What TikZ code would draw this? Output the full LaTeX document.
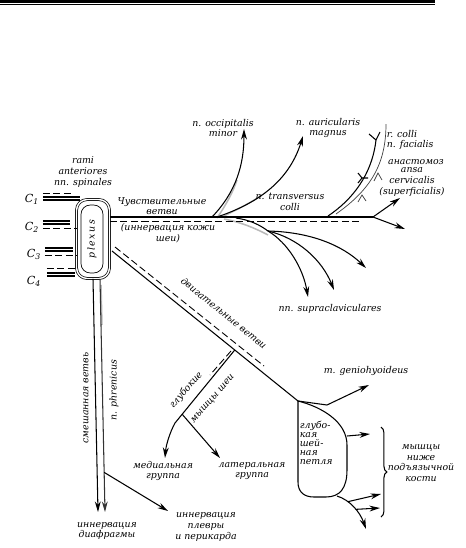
\documentclass[tikz,border=0pt]{standalone}
\usepackage{fontspec}
\setmainfont{DejaVu Serif}
\usetikzlibrary{arrows.meta,calc,decorations.pathreplacing}

\begin{document}
\begin{tikzpicture}[x=0.03cm,y=-0.03cm,>={Stealth[length=9pt,width=5pt]}]
\tikzset{lbl/.style={font=\itshape\fontsize{8}{9}\selectfont,align=center,inner sep=0.5pt},
  nv/.style={line width=0.9pt},
  gr/.style={gray!55,line width=1.3pt},
  ds/.style={line width=0.75pt,dash pattern=on 6pt off 3pt}}
\useasboundingbox (0,0) rectangle (466,548);
% rule at the top of the page
\draw[line width=2.6pt] (0,1.3) -- (435,1.3);
\draw[line width=0.8pt] (0,4.8) -- (435,4.8);

% plexus and roots
\node[draw,double,double distance=1.2pt,line width=0.6pt,rounded corners=0.32cm,minimum width=0.99cm,minimum height=2.37cm] (plexus) at (93,239) {};
\node[draw,line width=0.6pt,rounded corners=0.28cm,rotate=90,minimum width=2.04cm,minimum height=0.66cm,lbl,inner sep=0pt] (plexin) at (92,239) {p\,l\,e\,x\,u\,s};
\node[lbl] (rami) at (83,172) {rami\\anteriores\\nn. spinales};
\node[lbl,font=\itshape\fontsize{9.5}{10}\selectfont] (c1) at (32,199) {C\textsubscript{1}};
\node[lbl,font=\itshape\fontsize{9.5}{10}\selectfont] (c2) at (32,227) {C\textsubscript{2}};
\node[lbl,font=\itshape\fontsize{9.5}{10}\selectfont] (c3) at (34,254) {C\textsubscript{3}};
\node[lbl,font=\itshape\fontsize{9.5}{10}\selectfont] (c4) at (34,281) {C\textsubscript{4}};
\draw[nv] ($(c1.east)+(3,-2)$) -- ($(plexus.west|-c1.east)+(4,-2)$);
\draw[nv] ($(c1.east)+(3,1)$) -- ($(plexus.west|-c1.east)+(4,1)$);
\draw[ds] ($(c1.east)+(3,-6)$) -- ($(plexus.west|-c1.east)+(-2,-6)$);
\draw[nv] ($(c2.east)+(3,-6)$) -- ($(plexus.west|-c2.east)+(-6,-6)$);
\draw[nv] ($(c2.east)+(3,-3)$) -- ($(plexus.west|-c2.east)+(-6,-3)$);
\draw[ds] ($(c2.east)+(3,1)$) -- ($(plexus.west|-c2.east)+(1,1)$);
\draw[nv] ($(c3.east)+(3,-6)$) -- ($(plexus.west|-c3.east)+(-3,-6)$);
\draw[nv] ($(c3.east)+(3,-3)$) -- ($(plexus.west|-c3.east)+(-3,-3)$);
\draw[ds] ($(c3.east)+(3,1)$) -- ($(plexus.west|-c3.east)+(1,1)$);
\draw[ds] ($(c4.east)+(5,-13)$) -- ($(plexus.west|-c4.east)+(1,-13)$);
\draw[nv] ($(c4.east)+(5,-8)$) -- ($(plexus.west|-c4.east)+(-1,-8)$);
\draw[nv] ($(c4.east)+(5,-5)$) -- ($(plexus.west|-c4.east)+(-1,-5)$);

% sensory branches
\coordinate (sfork) at (373,217);
\coordinate (sdend) at (362,221);
\coordinate (sup1) at (400,198);
\coordinate (sup2) at (405,229);
\coordinate (sb1) at (212,217);
\coordinate (sb2) at (217,217);
\coordinate (sb3) at (236,218);
\coordinate (occtip) at (244,129);
\coordinate (aurtip) at (303,136);
\coordinate (sc) at (268,231);
\coordinate (sc1) at (366,268);
\coordinate (sc2) at (334,290);
\coordinate (sc3) at (308,297);
\draw[gr] (217,218) .. controls (226,205) and (233,192) .. (237,180);
\draw[gr] (222,217) .. controls (240,208) and (252,202) .. (262,195);
\draw[gr] (224,219) .. controls (240,222) and (255,228) .. (268,235);
\draw[nv] (plexus.east|-sfork) -- (sfork);
\draw[ds] ($(plexus.east|-sfork)+(0,4)$) -- (sdend);
\draw[nv,->] (sfork) -- (sup1);
\draw[nv,->] (sfork) -- (sup2);
\draw[nv,->] (sb1) .. controls (236,192) and (244,165) .. (occtip);
\draw[nv,->] (sb2) .. controls (262,202) and (290,178) .. (aurtip);
\draw[nv] (sb3) .. controls (250,220) and (260,225) .. (sc);
\draw[nv,->] (sc) .. controls (310,232) and (342,245) .. (sc1);
\draw[nv,->] (sc) .. controls (298,238) and (322,260) .. (sc2);
\draw[nv,->] (sc) .. controls (288,243) and (303,268) .. (sc3);

% anastomosis with n. facialis
\coordinate (ana0) at (328,216);
\coordinate (ana1) at (376,140);
\coordinate (anb0) at (336,214);
\coordinate (anb1) at (386,124);
\draw[nv] (ana0) .. controls (352,200) and (372,175) .. (ana1);
\draw[nv] (ana1) -- (369,134);
\draw[nv] (ana1) -- (380,132);
\draw[nv] (368,178) -- (362,178) -- (358,173);
\draw[nv] (362,178) -- (358,183);
\draw[line width=0.6pt,black!75] (anb0) .. controls (370,190) and (386,165) .. (anb1);
\draw[line width=0.6pt,black!75] (374,181) -- (378,173) -- (382,180);
\draw[line width=0.6pt,black!75] (358,202) -- (362,195) -- (366,201);

\node[lbl] (occ) at (223,128) {n. occipitalis\\minor};
\node[lbl] (aur) at (328,128) {n. auricularis\\magnus};
\node[lbl,align=left,anchor=west] (fac) at (386,140) {r. colli\\n. facialis};
\node[lbl] (anast) at (416,162) {анастомоз};
\node[lbl] (ansa) at (412,182) {ansa\\cervicalis\\(superficialis)};
\node[lbl] (transv) at (290,202) {n. transversus\\colli};
\node[lbl] (sens) at (162,206) {Чувствительные\\ветви};
\node[lbl] (skin) at (168,233) {(иннервация кожи\\шеи)};
\node[lbl] (supra) at (330,309) {nn. supraclaviculares};

% motor branches
\coordinate (m0) at (112,251);
\coordinate (lp) at (298,401);
\coordinate (mend) at (264,366);
\draw[nv] (m0) -- (lp) coordinate[pos=0.66] (dp);
\draw[ds] ($(m0)+(3,-4)$) -- (mend);
\node[lbl,rotate=-39] (motor) at (224,313) {двигательные ветви};

\coordinate (dq) at (175,423);
\coordinate (dd0) at (231,351);
\coordinate (dd1) at (210,375);
\coordinate (medtip) at (165,458);
\coordinate (lattip) at (220,458);
\draw[nv] (dp) -- (dq) coordinate[pos=0.88] (dl);
\draw[ds] (dd0) -- (dd1);
\draw[nv,->] (dq) .. controls (170,432) and (166,445) .. (medtip);
\draw[nv,->] (dl) -- (lattip);
\node[lbl,rotate=49] (deep1) at (186,390) {глубокие};
\node[lbl,rotate=49] (deep2) at (213,399) {мышцы шеи};
\node[lbl] (med) at (163,471) {медиальная\\группа};
\node[lbl] (lat) at (252,471) {латеральная\\группа};

% n. phrenicus
\coordinate (ph1) at (98,512);
\coordinate (ph2) at (105,512);
\coordinate (pltip) at (168,511);
\draw[gr] (101,285) -- (102,325);
\draw[nv,->] (plexus.south) -- (ph1);
\draw[nv,black!80,->] ($(plexus.south)+(7,0)$) -- (ph2) coordinate[pos=0.83] (pl0);
\draw[nv,->] (pl0) -- (pltip);
\node[lbl,rotate=90] (mixed) at (86,398) {смешанная ветвь};
\node[lbl,rotate=90] (phren) at (114,390) {n. phrenicus};
\node[lbl] (diaph) at (107,531) {иннервация\\диафрагмы};
\node[lbl] (pleura) at (206,527) {иннервация\\плевры\\и перикарда};

% ansa cervicalis profunda
\draw[nv] (lp) -- (298,482) .. controls (298,492) and (304,497) .. (314,497) -- (326,497)
  .. controls (340,497) and (347,488) .. (347,470) -- (347,445)
  .. controls (347,422) and (322,407) .. (lp);
\coordinate (gh0) at (327,405);
\coordinate (ghtip) at (369,385);
\coordinate (lr) at (347,436);
\coordinate (lrtip) at (370,434);
\coordinate (lb) at (337,496);
\coordinate (lbtip) at (366,529);
\coordinate (b1tip) at (381,494);
\coordinate (b2tip) at (380,508);
\draw[nv,->] (lp) -- (gh0) -- (ghtip);
\draw[nv,->] (lr) -- (lrtip);
\draw[nv,->] (lb) .. controls (350,500) and (360,512) .. (lbtip) coordinate[pos=0.3] (b1) coordinate[pos=0.55] (b2);
\draw[nv,->] (b1) -- (b1tip);
\draw[nv,->] (b2) -- (b2tip);
\node[lbl] (genio) at (366,371) {m. geniohyoideus};
\node[lbl,align=left,anchor=north west,font=\itshape\fontsize{8}{7.8}\selectfont] (loop) at (299,420) {глубо-\\кая\\шей-\\ная\\петля};
\coordinate (br0) at (381,427);
\coordinate (br1) at (381,517);
\draw[nv,decorate,decoration={brace,amplitude=5pt}] (br0) -- (br1);
\node[lbl] (hyoid) at (421,463) {мышцы\\ниже\\подъязычной\\кости};
\end{tikzpicture}
\end{document}
